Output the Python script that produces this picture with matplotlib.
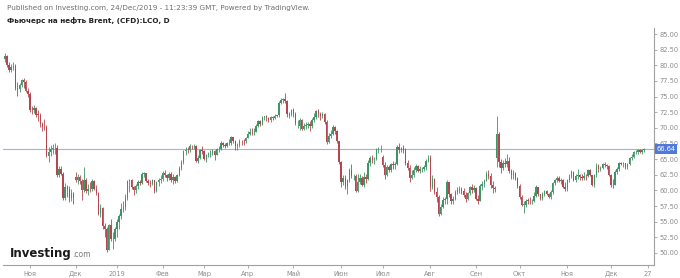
import matplotlib
matplotlib.use("Agg")
import matplotlib.pyplot as plt
import matplotlib.transforms as mtransforms
import numpy as np
import pandas as pd

# daily OHLC, Brent futures, 16 Oct 2018 - 24 Dec 2019 (one line per month)
opens = [
    81.00, 81.41, 80.05, 79.29, 79.78, 79.83, 76.44, 76.17, 76.89, 77.62, 77.34, 75.91,
    75.47, 72.89, 72.83, 73.17, 72.13, 72.07, 70.65, 70.18, 70.12, 65.47, 66.12, 66.62, 66.76, 66.79, 62.53, 63.48, 62.60, 58.80, 60.48, 60.21, 58.76, 59.51,
    62.10, 61.69, 62.08, 61.56, 60.06, 61.67, 59.97, 60.20, 60.15, 61.45, 60.28, 59.61, 56.26, 57.24, 54.35, 53.82, 50.47, 54.47, 52.16, 52.20,
    53.80, 54.91, 55.95, 57.06, 57.33, 58.72, 61.44, 61.68, 60.48, 59.99, 60.64, 61.32, 61.18, 62.70, 62.74, 61.50, 61.14, 61.09, 61.64, 59.93, 61.32, 61.65,
    61.89, 62.75, 62.51, 61.98, 62.69, 61.63, 62.10, 61.51, 62.42, 63.61, 64.57, 66.25, 66.50, 66.45, 67.08, 67.07, 67.12, 64.76, 65.21, 66.39,
    66.31, 65.07, 65.67, 65.86, 65.99, 66.30, 65.74, 66.58, 66.67, 67.55, 67.23, 67.16, 67.54, 67.61, 68.50, 67.86, 67.03, 67.21, 67.97, 67.83, 67.82,
    68.39, 69.01, 69.37, 69.31, 69.40, 70.34, 71.10, 70.61, 71.73, 71.83, 71.55, 71.18, 71.72, 71.62, 71.97, 72.00, 74.04, 74.51, 74.57, 74.35, 72.15, 72.04,
    72.80, 72.18, 70.75, 70.30, 71.24, 69.88, 70.37, 70.39, 70.62, 70.23, 71.24, 71.77, 72.62, 72.21, 71.97, 72.18, 70.99, 67.76, 68.69, 69.00, 70.11, 69.45, 67.87,
    64.49, 61.28, 61.97, 60.63, 61.67, 63.29, 62.29, 62.29, 59.97, 61.31, 62.01, 60.94, 62.14, 61.82, 64.45, 65.20, 64.86, 65.05, 66.49, 66.55,
    65.30, 64.06, 62.40, 63.82, 63.30, 64.23, 64.11, 64.16, 67.01, 66.52, 66.72, 66.48, 64.35, 63.66, 61.93, 62.47, 63.26, 63.83, 63.18, 63.39, 63.46, 63.71, 64.72,
    65.17, 60.50, 61.89, 59.81, 58.94, 56.23, 57.38, 58.53, 58.57, 61.30, 59.48, 58.23, 58.64, 59.74, 60.03, 60.30, 59.92, 59.34, 58.70, 59.51, 60.49, 60.08,
    60.43, 58.66, 58.26, 60.70, 60.95, 61.54, 62.59, 62.38, 60.81, 60.38, 65.20, 69.02, 64.55, 63.60, 64.40, 64.28, 64.77, 63.10, 62.39, 62.74, 61.91,
    60.78, 58.89, 57.69, 57.71, 58.37, 58.35, 58.24, 58.32, 59.10, 60.51, 59.35, 58.74, 59.42, 59.91, 59.42, 58.96, 59.70, 61.17, 61.67, 62.02, 61.57, 61.59, 60.61,
    60.23, 61.69, 62.13, 62.96, 61.74, 62.29, 62.51, 62.18, 62.06, 62.37, 62.28, 63.30, 62.44, 60.91, 62.40, 63.97, 63.39, 63.65, 64.27, 64.06, 63.87,
    62.43, 60.92, 60.82, 62.99, 63.39, 64.39, 64.25, 64.34, 63.72, 64.20, 65.22, 65.34, 66.10, 66.17, 66.54, 66.14, 66.39,
]
highs = [
    81.90, 81.65, 80.60, 80.25, 80.50, 80.20, 77.40, 77.20, 77.85, 77.95, 77.70, 76.40,
    75.70, 73.50, 73.60, 73.40, 72.90, 72.30, 70.90, 71.40, 70.40, 67.00, 67.20, 67.40, 67.60, 67.20, 63.90, 63.90, 62.90, 61.20, 60.90, 60.70, 60.20, 59.80,
    62.90, 62.60, 62.40, 61.90, 63.70, 62.00, 61.00, 61.30, 61.90, 61.60, 60.90, 59.80, 57.90, 57.40, 54.80, 54.20, 54.60, 55.40, 53.40, 54.10,
    55.40, 56.30, 58.00, 58.30, 59.40, 61.70, 61.90, 61.80, 60.70, 61.00, 61.70, 61.60, 62.90, 63.00, 62.80, 61.80, 61.60, 61.90, 61.70, 61.50, 62.00, 62.40,
    63.10, 63.20, 62.70, 62.90, 62.90, 62.60, 62.30, 62.60, 63.90, 64.90, 66.50, 66.90, 66.90, 67.40, 67.30, 67.40, 67.30, 65.60, 66.60, 67.10,
    66.50, 65.90, 66.10, 66.40, 66.70, 66.40, 66.80, 67.10, 67.90, 67.80, 67.50, 67.80, 68.20, 68.70, 68.60, 68.00, 67.60, 68.20, 68.10, 68.20, 68.60,
    69.50, 69.90, 69.90, 70.00, 70.60, 71.30, 71.30, 71.90, 71.90, 72.00, 71.80, 71.90, 71.90, 72.20, 72.10, 74.30, 74.70, 74.80, 75.60, 74.50, 72.60, 73.00,
    73.20, 72.60, 71.20, 71.60, 71.40, 70.70, 70.90, 71.00, 71.10, 71.50, 72.30, 72.80, 73.00, 72.60, 72.50, 72.30, 71.30, 69.20, 69.60, 70.40, 70.30, 69.60, 67.90,
    64.70, 62.40, 62.40, 61.90, 63.60, 64.20, 62.70, 62.60, 62.60, 62.60, 62.30, 63.00, 62.60, 64.80, 65.50, 65.60, 65.40, 66.80, 67.00, 67.20,
    65.60, 64.50, 64.00, 64.00, 64.40, 64.70, 64.50, 67.30, 67.50, 67.00, 67.30, 66.80, 64.90, 64.00, 63.30, 63.70, 64.30, 64.00, 63.90, 63.80, 64.00, 65.00, 65.60,
    65.60, 62.50, 62.00, 60.50, 59.20, 57.90, 58.90, 59.00, 61.60, 61.30, 59.60, 59.10, 60.00, 60.50, 60.70, 60.50, 60.40, 59.70, 59.80, 60.70, 61.10, 60.80,
    60.60, 59.20, 61.10, 61.50, 61.90, 63.10, 63.20, 62.80, 61.50, 60.70, 71.90, 69.30, 65.10, 64.80, 65.20, 65.80, 65.30, 63.40, 63.20, 62.90, 62.20,
    61.00, 59.30, 58.30, 58.60, 58.80, 58.90, 58.70, 59.70, 60.80, 60.60, 59.50, 59.70, 60.10, 60.00, 59.60, 60.10, 61.30, 61.90, 62.30, 62.30, 62.00, 61.80, 61.30,
    61.90, 62.60, 63.20, 63.10, 62.60, 63.40, 62.70, 62.60, 62.90, 62.70, 63.50, 63.40, 62.50, 62.60, 64.40, 64.30, 63.90, 64.40, 64.50, 64.30, 64.00,
    62.70, 61.90, 63.20, 63.70, 64.60, 64.60, 64.60, 64.40, 64.40, 65.40, 65.80, 66.30, 66.50, 66.70, 66.60, 66.60, 66.80,
]
lows = [
    80.60, 79.80, 78.90, 78.90, 79.20, 76.10, 75.10, 75.80, 76.60, 76.40, 75.70, 74.90,
    72.50, 72.20, 72.40, 71.80, 71.10, 70.10, 69.50, 69.60, 65.30, 64.60, 65.50, 65.90, 65.80, 62.20, 62.20, 62.40, 58.40, 58.40, 59.00, 58.20, 58.30, 57.90,
    61.30, 61.00, 61.00, 58.40, 59.80, 59.60, 59.20, 59.70, 59.90, 60.00, 59.30, 56.00, 55.70, 53.80, 52.60, 50.20, 50.40, 51.90, 50.60, 51.90,
    52.50, 53.80, 55.50, 56.50, 56.90, 58.40, 59.80, 60.20, 59.30, 59.60, 60.20, 60.90, 61.00, 62.10, 61.30, 60.80, 60.60, 60.90, 59.60, 59.70, 60.70, 61.20,
    61.50, 62.10, 61.50, 61.70, 61.40, 61.00, 61.20, 61.40, 62.30, 63.20, 64.30, 65.70, 66.00, 66.10, 66.60, 66.70, 64.60, 64.40, 65.00, 65.80,
    64.80, 64.60, 65.30, 65.40, 65.60, 64.90, 65.60, 66.20, 66.40, 67.00, 66.80, 66.90, 67.20, 67.30, 67.50, 66.50, 66.40, 66.90, 67.20, 67.30, 67.60,
    68.30, 68.80, 68.90, 68.80, 69.30, 70.20, 70.30, 70.50, 71.30, 71.10, 70.90, 71.00, 71.30, 71.40, 71.80, 71.80, 73.80, 74.00, 74.00, 71.80, 71.60, 71.90,
    71.80, 70.40, 70.00, 69.70, 69.60, 69.60, 69.80, 69.90, 69.50, 69.90, 70.90, 71.40, 71.80, 71.20, 71.50, 70.60, 67.40, 67.60, 68.40, 68.80, 69.00, 67.60, 64.20,
    60.60, 60.80, 60.20, 59.50, 61.40, 62.00, 61.60, 59.70, 59.80, 61.10, 60.70, 60.50, 61.20, 61.70, 63.90, 64.40, 64.20, 64.90, 66.00, 66.20,
    63.70, 61.90, 62.30, 62.90, 63.00, 63.50, 63.50, 64.00, 66.00, 66.10, 66.00, 64.00, 63.30, 61.30, 61.90, 62.20, 63.00, 62.90, 62.80, 63.00, 63.10, 63.30, 64.50,
    59.90, 60.20, 59.50, 58.20, 55.90, 56.00, 57.20, 57.80, 57.80, 59.00, 57.80, 57.90, 58.40, 59.40, 59.60, 59.50, 58.90, 58.10, 58.40, 59.20, 59.60, 59.80,
    58.40, 57.90, 58.30, 60.10, 60.60, 61.50, 61.80, 60.40, 59.60, 59.80, 63.80, 63.80, 62.80, 63.30, 63.80, 63.80, 62.80, 61.90, 61.80, 61.60, 60.40,
    58.70, 57.50, 56.40, 57.30, 57.80, 57.90, 57.80, 58.10, 58.90, 59.10, 58.50, 58.50, 59.10, 59.20, 58.80, 58.70, 59.50, 60.80, 61.30, 61.30, 61.10, 60.40, 59.90,
    59.90, 61.30, 62.00, 61.50, 61.30, 61.90, 61.60, 61.60, 61.60, 61.70, 62.20, 62.30, 60.70, 60.50, 62.20, 63.00, 63.10, 63.50, 63.80, 63.50, 62.30,
    60.60, 60.40, 60.80, 62.60, 63.10, 64.00, 63.80, 63.50, 63.40, 64.10, 64.90, 65.20, 65.80, 65.90, 66.00, 65.90, 66.20,
]
closes = [
    81.41, 80.05, 79.29, 79.78, 79.83, 76.44, 76.17, 76.89, 77.62, 77.34, 75.91, 75.47,
    72.89, 72.83, 73.17, 72.13, 72.07, 70.65, 70.18, 70.12, 65.47, 66.12, 66.62, 66.76, 66.79, 62.53, 63.48, 62.60, 58.80, 60.48, 60.21, 58.76, 59.51, 58.71,
    61.69, 62.08, 61.56, 60.06, 61.67, 59.97, 60.20, 60.15, 61.45, 60.28, 59.61, 56.26, 57.24, 54.35, 53.82, 50.47, 54.47, 52.16, 52.20, 53.80,
    54.91, 55.95, 57.06, 57.33, 58.72, 61.44, 61.68, 60.48, 59.99, 60.64, 61.32, 61.18, 62.70, 62.74, 61.50, 61.14, 61.09, 61.64, 59.93, 61.32, 61.65, 61.89,
    62.75, 62.51, 61.98, 62.69, 61.63, 62.10, 61.51, 62.42, 63.61, 64.57, 66.25, 66.50, 66.45, 67.08, 67.07, 67.12, 64.76, 65.21, 66.39, 66.31,
    65.07, 65.67, 65.86, 65.99, 66.30, 65.74, 66.58, 66.67, 67.55, 67.23, 67.16, 67.54, 67.61, 68.50, 67.86, 67.03, 67.21, 67.97, 67.83, 67.82, 68.39,
    69.01, 69.37, 69.31, 69.40, 70.34, 71.10, 70.61, 71.73, 71.83, 71.55, 71.18, 71.72, 71.62, 71.97, 71.97, 74.04, 74.51, 74.57, 74.35, 72.15, 72.04, 72.80,
    72.18, 70.75, 70.85, 71.24, 69.88, 70.37, 70.39, 70.62, 70.23, 71.24, 71.77, 72.62, 72.21, 71.97, 72.18, 70.99, 67.76, 68.69, 69.00, 70.11, 69.45, 67.87, 64.49,
    61.28, 61.97, 60.63, 61.67, 63.29, 62.29, 62.29, 59.97, 61.31, 62.01, 60.94, 62.14, 61.82, 64.45, 65.20, 64.86, 65.05, 66.49, 66.55, 66.55,
    64.06, 62.40, 63.82, 63.30, 64.23, 64.11, 64.16, 67.01, 66.52, 66.72, 66.48, 64.35, 63.66, 61.93, 62.47, 63.26, 63.83, 63.18, 63.39, 63.46, 63.71, 64.72, 65.17,
    60.50, 61.89, 59.81, 58.94, 56.23, 57.38, 58.53, 58.57, 61.30, 59.48, 58.23, 58.64, 59.74, 60.03, 60.30, 59.92, 59.34, 58.70, 59.51, 60.49, 60.08, 60.43,
    58.66, 58.26, 60.70, 60.95, 61.54, 62.59, 62.38, 60.81, 60.38, 60.22, 69.02, 64.55, 63.60, 64.40, 64.28, 64.77, 63.10, 62.39, 62.74, 61.91, 60.78,
    58.89, 57.69, 57.71, 58.37, 58.35, 58.24, 58.32, 59.10, 60.51, 59.35, 58.74, 59.42, 59.91, 59.42, 58.96, 59.70, 61.17, 61.67, 62.02, 61.57, 61.59, 60.61, 60.23,
    61.69, 62.13, 62.96, 61.74, 62.29, 62.51, 62.18, 62.06, 62.37, 62.28, 63.30, 62.44, 60.91, 62.40, 63.97, 63.39, 63.65, 64.27, 64.06, 63.87, 62.43,
    60.92, 60.82, 62.99, 63.39, 64.39, 64.25, 64.34, 63.72, 64.20, 65.22, 65.34, 66.10, 66.17, 66.54, 66.14, 66.39, 66.64,
]
last_price = 66.64

tick_dates = ["2018-11-01", "2018-12-03", "2019-01-02", "2019-02-01", "2019-03-01",
              "2019-04-01", "2019-05-01", "2019-06-03", "2019-07-01", "2019-08-01",
              "2019-09-02", "2019-10-01", "2019-11-01", "2019-12-02", "2019-12-27"]
tick_labels = ["Ноя", "Дек", "2019", "Фев", "Мар", "Апр", "Май", "Июн", "Июл",
               "Авг", "Сен", "Окт", "Ноя", "Дек", "27"]
y_ticks = [50, 52.5, 55, 57.5, 60, 62.5, 65, 67.5, 70, 72.5, 75, 77.5, 80, 82.5, 85]

# trading days (bar index); extended past the last bar so the "27" tick can be placed
dates = pd.bdate_range("2018-10-16", "2019-12-31", freq="C",
                       holidays=["2018-12-25", "2019-01-01", "2019-12-25"])
n = len(closes)
x = np.arange(n)
o = np.array(opens); h = np.array(highs); l = np.array(lows); c = np.array(closes)

up_col = "#3f9466"
dn_col = "#b5454e"
axis_col = "#a0a0a0"
label_col = "#8c8c8c"

fig = plt.figure(figsize=(6.8, 2.78), dpi=100)
ax = fig.add_axes([3 / 680, 13 / 278, 651 / 680, 237 / 278])

up = c >= o
cols = np.where(up, up_col, dn_col)
lo_w = np.minimum(l, np.minimum(o, c))
hi_w = np.maximum(h, np.maximum(o, c))
ax.vlines(x, lo_w, hi_w, colors=cols, lw=0.6, zorder=2)
body_bot = np.minimum(o, c)
body_h = np.maximum(np.abs(c - o), 0.08)
ax.bar(x, body_h, bottom=body_bot, width=0.7, color=cols, lw=0, zorder=3)

ax.axhline(last_price, color="#a3aee8", lw=0.8, zorder=1)

ax.set_xlim(-0.96, 312.8)
ax.set_ylim(48.08, 85.96)

for s in ["top", "left"]:
    ax.spines[s].set_visible(False)
for s in ["right", "bottom"]:
    ax.spines[s].set_color(axis_col)
    ax.spines[s].set_linewidth(0.8)

ax.yaxis.tick_right()
ax.set_yticks(y_ticks)
ax.set_yticklabels([f"{v:.2f}" for v in y_ticks])
ax.tick_params(axis="y", length=2, width=0.6, color=axis_col, labelsize=4.8,
               labelcolor=label_col, pad=2)
ax.set_xticks(dates.get_indexer(pd.to_datetime(tick_dates)))
ax.set_xticklabels(tick_labels)
ax.tick_params(axis="x", length=2, width=0.6, color=axis_col, labelsize=4.8,
               labelcolor=label_col, pad=2)

# last price marker on the price scale
trans = mtransforms.blended_transform_factory(ax.transAxes, ax.transData)
ax.text(1.004, last_price, "66.64", transform=trans, ha="left", va="center",
        fontsize=4.8, color="white", zorder=5,
        bbox=dict(boxstyle="square,pad=0.25", fc="#5079da", ec="none"), clip_on=False)

fig.text(7 / 680, 1 - 8 / 278, "Published on Investing.com, 24/Dec/2019 - 11:23:39 GMT, Powered by TradingView.",
         fontsize=5.2, color="#6e6e6e", va="center", ha="left")
fig.text(7 / 680, 1 - 21 / 278, "Фьючерс на нефть Brent, (CFD):LCO, D",
         fontsize=5.2, color="#222222", fontweight="bold", va="center", ha="left")

t = fig.text(10 / 680, 1 - 257 / 278, "Investing", fontsize=8.5, fontweight="bold",
             color="#1a1a1a", va="baseline", ha="left")
fig.canvas.draw()
bb = t.get_window_extent()
fig.text(bb.x1 / 680 + 0.001, 1 - 257 / 278, ".com", fontsize=5.5, color="#7a7a7a",
         va="baseline", ha="left")

fig.savefig("out.png", dpi=100)
